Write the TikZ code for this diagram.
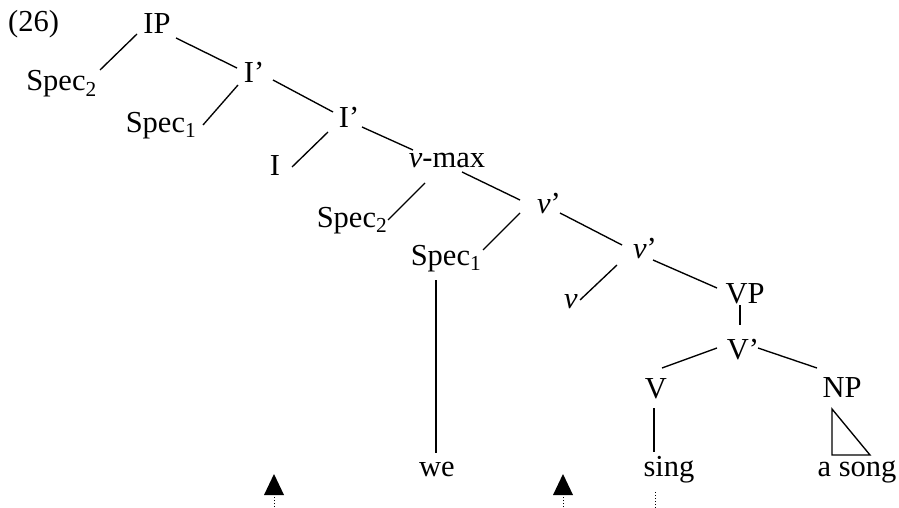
\documentclass[tikz,border=0pt]{standalone}
\usepackage{fontspec}
\setmainfont{Liberation Serif}
\usetikzlibrary{arrows.meta}
\begin{document}
\begin{tikzpicture}[x=1pt,y=-1pt,
  lbl/.style={anchor=base,inner sep=0pt,font=\fontsize{30.5}{36}\selectfont},
  br/.style={line width=1.35pt},
  dotline/.style={line width=1pt,dash pattern=on 1pt off 2pt}]
\useasboundingbox (0,0) rectangle (899,508);
\node[lbl,anchor=base west] (ex) at (8,32) {(26)};
\node[lbl] (IP) at (157,34) {IP};
\node[lbl] (S2a) at (61.5,91) {Spec\textsubscript{2}};
\node[lbl] (I1) at (254,83) {I’};
\node[lbl] (S1a) at (161,132) {Spec\textsubscript{1}};
\node[lbl] (I2) at (349,128) {I’};
\node[lbl] (I) at (275,175) {I};
\node[lbl] (vmax) at (447,167) {\textit{v}-max};
\node[lbl] (S2b) at (352,227) {Spec\textsubscript{2}};
\node[lbl] (v1) at (549,213) {\textit{v}’};
\node[lbl] (S1b) at (446,265) {Spec\textsubscript{1}};
\node[lbl] (v2) at (645,258) {\textit{v}’};
\node[lbl] (v) at (571,308) {\textit{v}};
\node[lbl] (VP) at (745,303) {VP};
\node[lbl] (Vb) at (743,359) {V’};
\node[lbl] (V) at (656,398) {V};
\node[lbl] (NP) at (842,397) {NP};
\node[lbl] (we) at (437,476) {we};
\node[lbl] (sing) at (669,476) {sing};
\node[lbl] (song) at (857,476) {a song};
\begin{scope}[br]
\draw ([shift={(-20,0)}]IP.base) -- ([shift={(38.5,-21)}]S2a.base);
\draw ([shift={(19,4)}]IP.base) -- ([shift={(-17,-15)}]I1.base);
\draw ([shift={(-16,2)}]I1.base) -- ([shift={(42,-7)}]S1a.base);
\draw ([shift={(19,-3)}]I1.base) -- ([shift={(-16,-16)}]I2.base);
\draw ([shift={(-21,4)}]I2.base) -- ([shift={(17,-8)}]I.base);
\draw ([shift={(13,-1)}]I2.base) -- ([shift={(-34,-17)}]vmax.base);
\draw ([shift={(-22,16)}]vmax.base) -- ([shift={(36,-7)}]S2b.base);
\draw ([shift={(15,5)}]vmax.base) -- ([shift={(-29,-13)}]v1.base);
\draw ([shift={(-29,0)}]v1.base) -- ([shift={(37,-15)}]S1b.base);
\draw ([shift={(11,0)}]v1.base) -- ([shift={(-23,-13)}]v2.base);
\draw ([shift={(-10,15)}]S1b.base) -- ([shift={(-1,-23)}]we.base);
\draw ([shift={(-28,7)}]v2.base) -- ([shift={(9,-8)}]v.base);
\draw ([shift={(8,2)}]v2.base) -- ([shift={(-28,-15)}]VP.base);
\draw ([shift={(-5,2)}]VP.base) -- ([shift={(-3,-34)}]Vb.base);
\draw ([shift={(-26,-11)}]Vb.base) -- ([shift={(6,-30)}]V.base);
\draw ([shift={(15,-11)}]Vb.base) -- ([shift={(-25,-29)}]NP.base);
\draw ([shift={(-2,10)}]V.base) -- ([shift={(-15,-24)}]sing.base);
\draw[line join=miter] ([shift={(-10,12)}]NP.base) -- ([shift={(-10,58)}]NP.base) -- ([shift={(28,58)}]NP.base) -- cycle;
\end{scope}
\coordinate (a1b) at (274,510);
\coordinate (a1t) at (274,474);
\coordinate (a2b) at (563,510);
\coordinate (a2t) at (563,474);
\draw[dotline] ([shift={(-14,16)}]sing.base) -- ([shift={(-14,34)}]sing.base);
\fill (a1t) -- ++(10,21) -- ++(-20,0) -- cycle;
\fill (a2t) -- ++(10,21) -- ++(-20,0) -- cycle;
\draw[dotline] (a1b) -- ([yshift=-23pt]a1t);
\draw[dotline] (a2b) -- ([yshift=-23pt]a2t);
\end{tikzpicture}
\end{document}
